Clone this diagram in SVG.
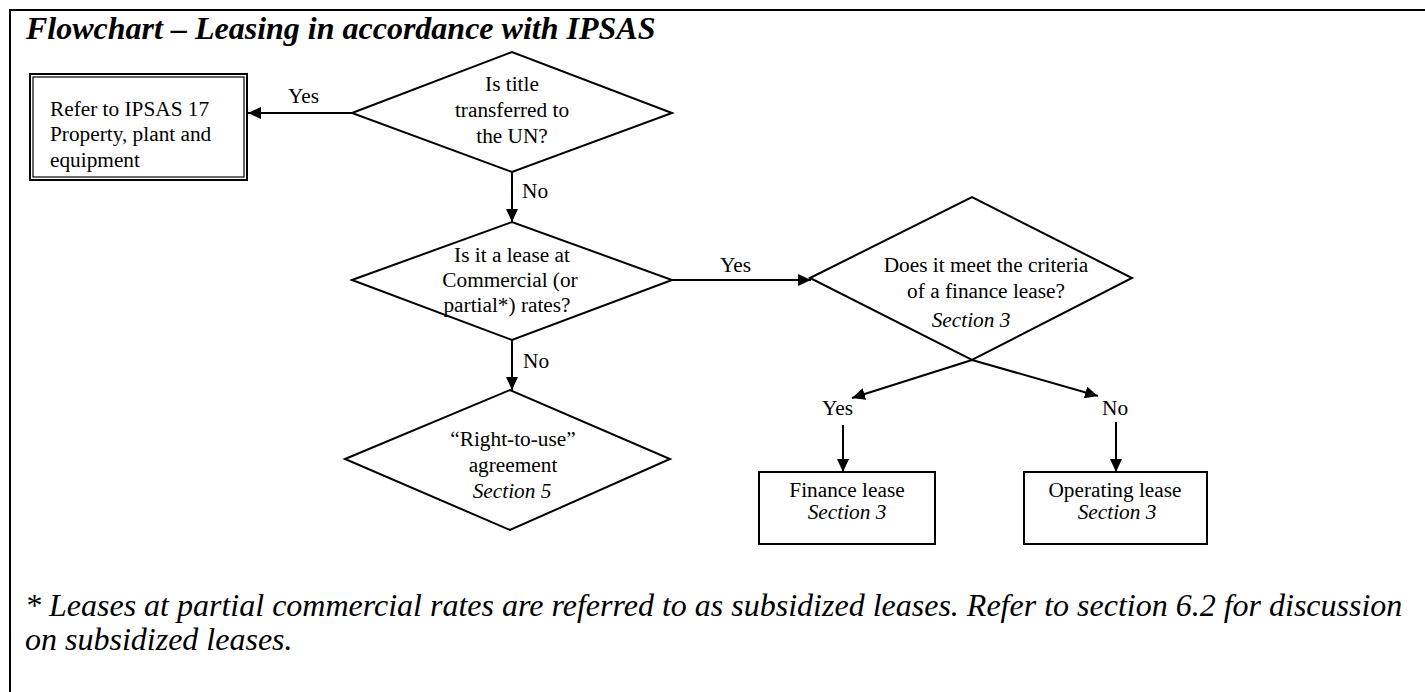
<svg xmlns="http://www.w3.org/2000/svg" width="1425" height="692" viewBox="0 0 1425 692">
  <style>
    .shape { fill: #fff; stroke: #000; stroke-width: 2; }
    .thin { fill: none; stroke: #000; stroke-width: 1.2; }
    .edge { fill: none; stroke: #000; stroke-width: 2; }
    text { font-family: "Liberation Serif", "Times New Roman", serif; fill: #000; }
    .t { font-size: 21.3px; }
    .c { text-anchor: middle; }
    .i { font-style: italic; }
    .title { font-size: 32px; font-weight: bold; font-style: italic; }
    .note { font-size: 32px; font-style: italic; }
  </style>
  <defs>
    <marker id="arrow" markerUnits="userSpaceOnUse" markerWidth="14" markerHeight="12" refX="13" refY="6" orient="auto">
      <path d="M0,0 L13,6 L0,12 Z" fill="#000"/>
    </marker>
  </defs>

  <rect width="1425" height="692" fill="#fff"/>

  <!-- page frame: top and left rules -->
  <path d="M10,692 V10 H1425" fill="none" stroke="#000" stroke-width="2"/>

  <text class="title" x="26" y="39">Flowchart – Leasing in accordance with IPSAS</text>

  <g id="connectors">
    <line class="edge" x1="352" y1="113" x2="248" y2="113" marker-end="url(#arrow)"/>
    <line class="edge" x1="512" y1="172" x2="512" y2="222" marker-end="url(#arrow)"/>
    <line class="edge" x1="672" y1="280" x2="811" y2="280" marker-end="url(#arrow)"/>
    <line class="edge" x1="512" y1="340" x2="512" y2="390" marker-end="url(#arrow)"/>
    <line class="edge" x1="972" y1="360" x2="852" y2="398" marker-end="url(#arrow)"/>
    <line class="edge" x1="972" y1="360" x2="1098" y2="396" marker-end="url(#arrow)"/>
    <line class="edge" x1="843" y1="425" x2="843" y2="472" marker-end="url(#arrow)"/>
    <line class="edge" x1="1116" y1="422" x2="1116" y2="472" marker-end="url(#arrow)"/>
    <text class="t" x="288" y="103">Yes</text>
    <text class="t" x="522" y="198">No</text>
    <text class="t" x="720" y="272">Yes</text>
    <text class="t" x="523" y="368">No</text>
    <text class="t" x="822" y="415">Yes</text>
    <text class="t" x="1102" y="415">No</text>
  </g>

  <g id="ipsas17">
    <rect class="shape" x="30" y="74" width="217" height="106"/>
    <rect class="thin" x="33" y="77" width="211" height="100"/>
    <text class="t" x="50" y="116">Refer to IPSAS 17</text>
    <text class="t" x="50" y="141">Property, plant and</text>
    <text class="t" x="50" y="167">equipment</text>
  </g>

  <g id="title-transfer">
    <polygon class="shape" points="352,113 512,52 672,113 512,172"/>
    <text class="t c" x="512" y="91">Is title</text>
    <text class="t c" x="512" y="117">transferred to</text>
    <text class="t c" x="512" y="143">the UN?</text>
  </g>

  <g id="commercial-rates">
    <polygon class="shape" points="352,280 512,222 672,280 512,340"/>
    <text class="t c" x="512" y="262">Is it a lease at</text>
    <text class="t c" x="510" y="287">Commercial (or</text>
    <text class="t c" x="507" y="312">partial*) rates?</text>
  </g>

  <g id="right-to-use">
    <polygon class="shape" points="345,459 510,390 670,459 510,530"/>
    <text class="t c" x="513" y="446">“Right-to-use”</text>
    <text class="t c" x="513" y="472">agreement</text>
    <text class="t c i" x="512" y="498">Section 5</text>
  </g>

  <g id="finance-criteria">
    <polygon class="shape" points="810,278 972,197 1132,278 972,360"/>
    <text class="t c" x="986" y="272">Does it meet the criteria</text>
    <text class="t c" x="986" y="298">of a finance lease?</text>
    <text class="t c i" x="971" y="327">Section 3</text>
  </g>

  <g id="finance-lease">
    <rect class="shape" x="759" y="472" width="176" height="72"/>
    <text class="t c" x="847" y="497">Finance lease</text>
    <text class="t c i" x="847" y="519">Section 3</text>
  </g>

  <g id="operating-lease">
    <rect class="shape" x="1024" y="472" width="183" height="72"/>
    <text class="t c" x="1115" y="497">Operating lease</text>
    <text class="t c i" x="1117" y="519">Section 3</text>
  </g>

  <text class="note" x="25" y="616">* Leases at partial commercial rates are referred to as subsidized leases. Refer to section 6.2 for discussion</text>
  <text class="note" x="25" y="650">on subsidized leases.</text>
</svg>
